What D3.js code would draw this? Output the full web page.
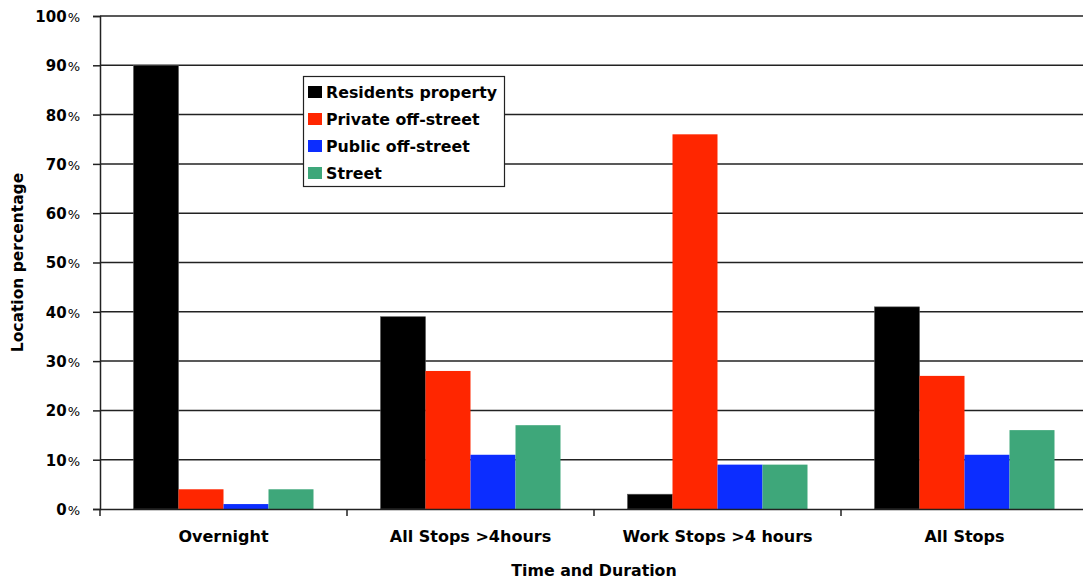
<!DOCTYPE html>
<html><head><meta charset="utf-8">
<script src="https://cdn.jsdelivr.net/npm/d3@7/dist/d3.min.js"></script>
<style>body{margin:0;background:#fff}svg text{font-family:"DejaVu Sans",Verdana,sans-serif;font-weight:bold}</style>
</head><body><svg id="c" width="1083" height="581"></svg>
<script>
const categories = ["Overnight", "All Stops >4hours", "Work Stops >4 hours", "All Stops"];
const seriesNames = ["Residents property", "Private off-street", "Public off-street", "Street"];
const residents = [90, 39, 3, 41];
const privateOff = [4, 28, 76, 27];
const publicOff = [1, 11, 9, 11];
const street = [4, 17, 9, 16];
const yTicks = [0, 10, 20, 30, 40, 50, 60, 70, 80, 90, 100];
const colors = ["#000000", "#ff2600", "#0c2dff", "#3ea77a"];
const series = [residents, privateOff, publicOff, street];

const svg = d3.select("#c");
const m = {l: 100, t: 16, r: 1088, b: 509};
const x = d3.scaleBand().domain(categories).range([m.l, m.r]).paddingInner(0).paddingOuter(0);
const inner = d3.scaleBand().domain(seriesNames).range([33.5, x.bandwidth() - 33.5]);
const y = d3.scaleLinear().domain([0, 100]).range([m.b, m.t]);

// gridlines
svg.append("g").selectAll("line").data(yTicks.slice(1)).join("line")
  .attr("x1", m.l).attr("x2", m.r).attr("y1", d => y(d)).attr("y2", d => y(d))
  .attr("stroke", "#222").attr("stroke-width", 1.5);

// bars
categories.forEach((c, ci) => {
  series.forEach((s, si) => {
    svg.append("rect")
      .attr("x", x(c) + inner(seriesNames[si]))
      .attr("width", inner.bandwidth())
      .attr("y", y(s[ci]))
      .attr("height", y(0) - y(s[ci]))
      .attr("fill", colors[si])
      .attr("stroke", si === 0 ? "#555" : "none").attr("stroke-width", 0.6);
  });
});

// y axis
const ya = svg.append("g").attr("transform", `translate(${m.l},0)`)
  .call(d3.axisLeft(y).tickValues(yTicks).tickSize(7).tickFormat(""));
ya.select(".domain").attr("stroke", "#222").attr("stroke-width", 1.5);
ya.selectAll(".tick line").attr("stroke", "#222").attr("stroke-width", 1.5);
ya.selectAll(".tick").each(function(d) {
  const t = d3.select(this).select("text").attr("x", -20).attr("dy", "0.36em")
    .attr("font-size", 15).attr("fill", "#000").attr("text-anchor", "end");
  t.text(null);
  t.append("tspan").text(d);
  t.append("tspan").attr("font-weight", "normal").attr("font-size", 13).attr("dx", 1).text("%");
});

// x axis
const xa = svg.append("g").attr("transform", `translate(0,${m.b})`)
  .call(d3.axisBottom(x).tickSize(0).tickPadding(22));
xa.select(".domain").attr("stroke", "#222").attr("stroke-width", 1.5);
xa.selectAll("text").attr("font-size", 16).attr("fill", "#000");
svg.append("g").selectAll("line").data(categories).join("line")
  .attr("x1", d => x(d)).attr("x2", d => x(d)).attr("y1", m.b).attr("y2", m.b + 7)
  .attr("stroke", "#222").attr("stroke-width", 1.5);

// axis titles
svg.append("text").attr("x", (m.l + m.r) / 2).attr("y", 576).attr("text-anchor", "middle")
  .attr("font-size", 15.8).text("Time and Duration");
svg.append("text").attr("transform", `translate(23,${(m.t + m.b) / 2}) rotate(-90)`)
  .attr("text-anchor", "middle").attr("font-size", 15.5).text("Location percentage");

// legend
const lg = svg.append("g");
lg.append("rect").attr("x", 303.5).attr("y", 76.5).attr("width", 201).attr("height", 110)
  .attr("fill", "#fff").attr("stroke", "#222").attr("stroke-width", 1.2);
seriesNames.forEach((n, i) => {
  const yy = 92 + i * 27;
  lg.append("rect").attr("x", 308).attr("y", yy - 6).attr("width", 14).attr("height", 12).attr("fill", colors[i]);
  lg.append("text").attr("x", 326).attr("y", yy + 6).attr("font-size", 15.8).text(n);
});
</script></body></html>
